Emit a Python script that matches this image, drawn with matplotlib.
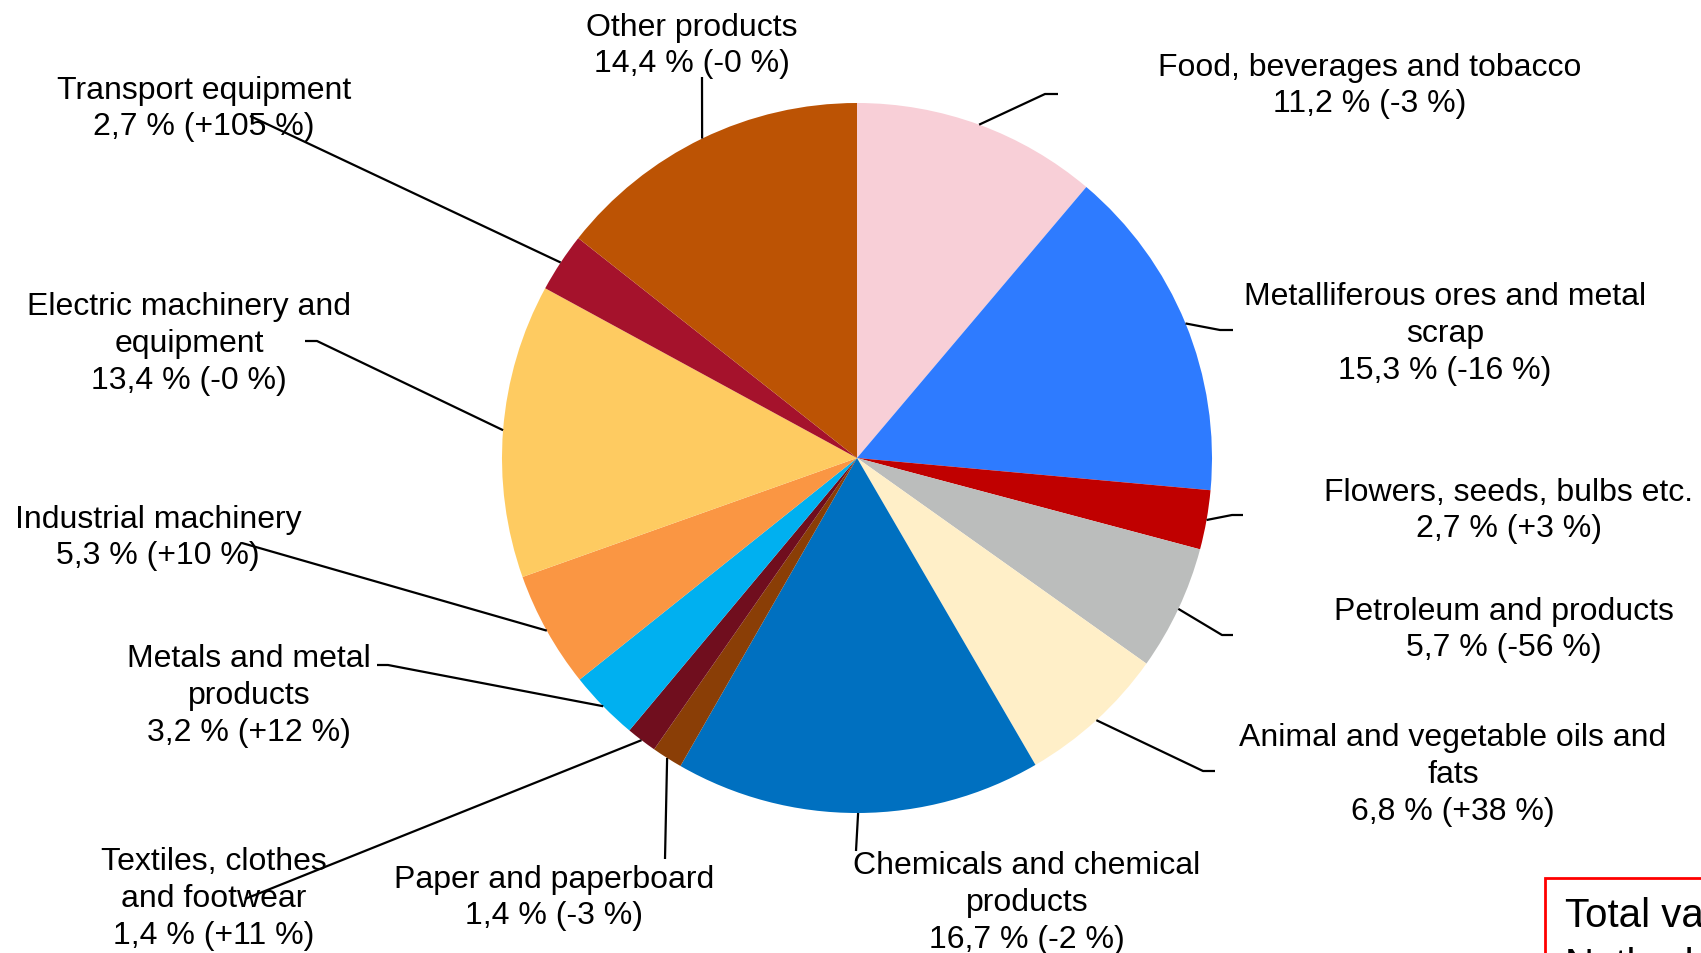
import numpy as np
import matplotlib
matplotlib.use("Agg")
import matplotlib.pyplot as plt
from matplotlib.patches import Rectangle

# ---------------- data ----------------
categories = [
    "Food, beverages and tobacco",
    "Metalliferous ores and metal\nscrap",
    "Flowers, seeds, bulbs etc.",
    "Petroleum and products",
    "Animal and vegetable oils and\nfats",
    "Chemicals and chemical\nproducts",
    "Paper and paperboard",
    "Textiles, clothes\nand footwear",
    "Metals and metal\nproducts",
    "Industrial machinery",
    "Electric machinery and\nequipment",
    "Transport equipment",
    "Other products",
]
shares = [11.2, 15.3, 2.7, 5.7, 6.8, 16.7, 1.4, 1.4, 3.2, 5.3, 13.4, 2.7, 14.4]
changes = ["-3", "-16", "+3", "-56", "+38", "-2", "-3", "+11", "+12", "+10", "-0", "+105", "-0"]

# ---------------- style / layout ----------------
colors = ["#F8CFD7", "#2E7BFF", "#C00000", "#BBBDBC", "#FFEFC8", "#0070C0",
          "#8A3E06", "#700E1E", "#00B0F0", "#FA9643", "#FECB61", "#A5122C", "#BC5304"]

W, H = 1701, 954
center_px = (857, 459)
radius_px = 355
label_dy = 4  # small vertical adjustment of the label blocks

# label block centres (pixels, y downwards)
label_pos = [(1370, 82), (1445, 330), (1509, 507), (1504, 626), (1453, 771),
             (1027, 899), (554, 894), (214, 895), (249, 692), (158, 534),
             (189, 340), (204, 105), (692, 42)]
# leader line way-points after the wedge edge point (pixels, y downwards)
leader_pts = [
    [(1045, 95), (1058, 95)],
    [(1220, 331), (1233, 331)],
    [(1232, 516), (1243, 516)],
    [(1222, 636), (1233, 636)],
    [(1203, 772), (1215, 772)],
    [(856, 852)],
    [(665, 860)],
    [(245, 900)],
    [(388, 666), (377, 666)],
    [(242, 544)],
    [(317, 342), (305, 342)],
    [(250, 117)],
    [(702, 78)],
]

plt.rcParams['font.family'] = ['Liberation Sans', 'DejaVu Sans']

fig = plt.figure(figsize=(W / 100, H / 100), dpi=100)
ax = fig.add_axes([0, 0, 1, 1])


def Y(y):
    return H - y


wedges, _ = ax.pie(shares, colors=colors, startangle=90, counterclock=False,
                   center=(center_px[0], Y(center_px[1])), radius=radius_px,
                   wedgeprops=dict(linewidth=0))
ax.set_xlim(0, W)
ax.set_ylim(0, H)
ax.set_aspect('equal')
ax.axis('off')

for i, w in enumerate(wedges):
    ang = np.deg2rad((w.theta1 + w.theta2) / 2)
    ex = center_px[0] + radius_px * np.cos(ang)
    ey = Y(center_px[1]) + radius_px * np.sin(ang)
    xs = [ex] + [p[0] for p in leader_pts[i]]
    ys = [ey] + [Y(p[1]) for p in leader_pts[i]]
    ax.plot(xs, ys, color='black', lw=1.6, solid_capstyle='butt', zorder=3)

    txt = f"{categories[i]}\n{str(shares[i]).replace('.', ',')} % ({changes[i]} %)"
    lx, ly = label_pos[i]
    ax.text(lx, Y(ly + label_dy), txt, ha='center', va='center', fontsize=23,
            linespacing=1.29, color='black', zorder=4)

# clipped total box in the bottom-right corner
ax.add_patch(Rectangle((1545, Y(879) - 200), 400, 200, fill=False,
                       edgecolor='#FF0000', lw=2, clip_on=False, zorder=5))
ax.text(1565, Y(927), "Total value of imports", fontsize=29, va='baseline',
        ha='left', clip_on=False, zorder=5)
ax.text(1565, Y(977), "Netherlands", fontsize=29, va='baseline',
        ha='left', clip_on=False, zorder=5)

fig.savefig("out.png", dpi=100)
